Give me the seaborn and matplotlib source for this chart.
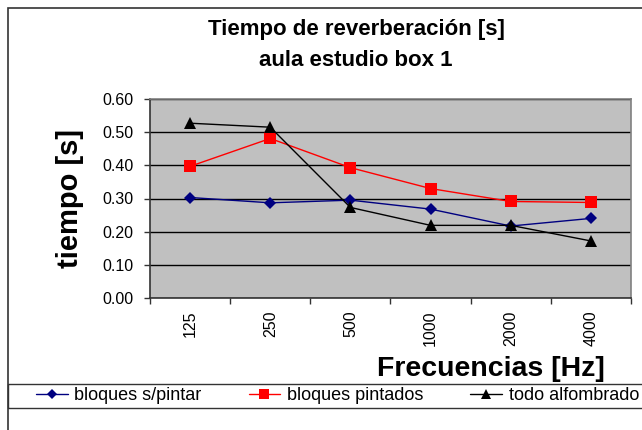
import matplotlib
matplotlib.use('Agg')
import matplotlib.pyplot as plt
from matplotlib.patches import Rectangle
from matplotlib.lines import Line2D
import numpy as np
import pandas as pd
import seaborn as sns

frecuencias = ['125', '250', '500', '1000', '2000', '4000']
bloques_sin_pintar = [0.303, 0.287, 0.295, 0.268, 0.217, 0.240]
bloques_pintados = [0.397, 0.481, 0.393, 0.330, 0.291, 0.288]
todo_alfombrado = [0.527, 0.515, 0.273, 0.219, 0.219, 0.172]
series_names = ['bloques s/pintar', 'bloques pintados', 'todo alfombrado']

W, H = 642, 430


def main():
    sns.set_style('white')
    plt.rcParams['font.family'] = ['Liberation Sans', 'DejaVu Sans']
    plt.rcParams['text.color'] = 'black'
    plt.rcParams['xtick.color'] = 'black'
    plt.rcParams['ytick.color'] = 'black'

    df = pd.DataFrame({
        'frecuencia': frecuencias * 3,
        'tiempo': bloques_sin_pintar + bloques_pintados + todo_alfombrado,
        'serie': np.repeat(series_names, len(frecuencias)),
    })

    fig = plt.figure(figsize=(W / 100, H / 100), dpi=100)
    ax = fig.add_axes([150 / W, 1 - 298 / H, 481 / W, 199 / H])
    ax.set_facecolor('#c0c0c0')

    palette = {'bloques s/pintar': '#000080', 'bloques pintados': '#ff0000',
               'todo alfombrado': '#000000'}
    markers = {'bloques s/pintar': 'D', 'bloques pintados': 's',
               'todo alfombrado': '^'}
    sizes = {'bloques s/pintar': 6.5, 'bloques pintados': 8, 'todo alfombrado': 8.5}

    sns.lineplot(data=df, x='frecuencia', y='tiempo', hue='serie', style='serie',
                 palette=palette, markers=markers, dashes=False, linewidth=1,
                 markeredgewidth=0, ax=ax, legend=False, zorder=3)
    for line, name in zip(ax.get_lines(), series_names):
        line.set_markersize(sizes[name])

    ax.set_xlim(-0.5, 5.5)
    ax.set_ylim(0, 0.6)
    yt = np.arange(0, 0.61, 0.1)
    ax.set_yticks(yt)
    ax.set_yticklabels(['%.2f' % v for v in yt], fontsize=11.5)
    ax.yaxis.grid(True, color='black', linewidth=1)
    ax.set_axisbelow(True)
    ax.set_xticks(range(len(frecuencias)))
    ax.set_xticklabels(frecuencias, rotation=90, fontsize=11.5)
    ax.set_xticks(np.arange(-0.5, 6, 1), minor=True)
    ax.tick_params(axis='x', which='major', length=0, pad=9)
    ax.tick_params(axis='x', which='minor', length=4, width=1, color='#333333',
                   direction='out', bottom=True)
    ax.tick_params(axis='y', length=4, width=1, color='#333333', direction='out',
                   left=True, pad=8)
    for s in ['left', 'bottom']:
        ax.spines[s].set_color('#333333')
        ax.spines[s].set_linewidth(1.2)
    for s in ['top', 'right']:
        ax.spines[s].set_color('#808080')
        ax.spines[s].set_linewidth(1.2)

    ax.set_xlabel('')
    ax.set_ylabel('')
    fig.text(70 / W, 1 - 198 / H, 'tiempo [s]', rotation=90, fontsize=21,
             fontweight='bold', ha='center', va='center')
    fig.text(605 / W, 1 - 369 / H, 'Frecuencias [Hz]', fontsize=20.5,
             fontweight='bold', ha='right', va='center')
    fig.text(356 / W, 1 - 29 / H, 'Tiempo de reverberación [s]', fontsize=16,
             fontweight='bold', ha='center', va='center')
    fig.text(356 / W, 1 - 61 / H, 'aula estudio box 1', fontsize=16,
             fontweight='bold', ha='center', va='center')

    # outer chart frame and legend box
    fig.add_artist(Rectangle((8 / W, -0.1), 1.0, 1 - 8 / H + 0.1,
                             transform=fig.transFigure, fill=False,
                             edgecolor='#333333', linewidth=1.2))
    fig.add_artist(Rectangle((8 / W, 1 - 408 / H), 1.0, 24 / H,
                             transform=fig.transFigure, fill=False,
                             edgecolor='#333333', linewidth=1))

    handles = [Line2D([], [], color=palette[n], marker=markers[n], linewidth=1,
                      markersize=sizes[n] - 1, markeredgewidth=0)
               for n in series_names]
    fig.legend(handles, series_names, loc='center left', ncol=3, frameon=False,
               bbox_to_anchor=(36 / W, 1 - 396 / H), fontsize=13,
               borderpad=0, borderaxespad=0,
               handlelength=1.75, handletextpad=0.38, columnspacing=2.6)

    fig.savefig('out.png', dpi=100)
    plt.close(fig)


if __name__ == '__main__':
    main()
